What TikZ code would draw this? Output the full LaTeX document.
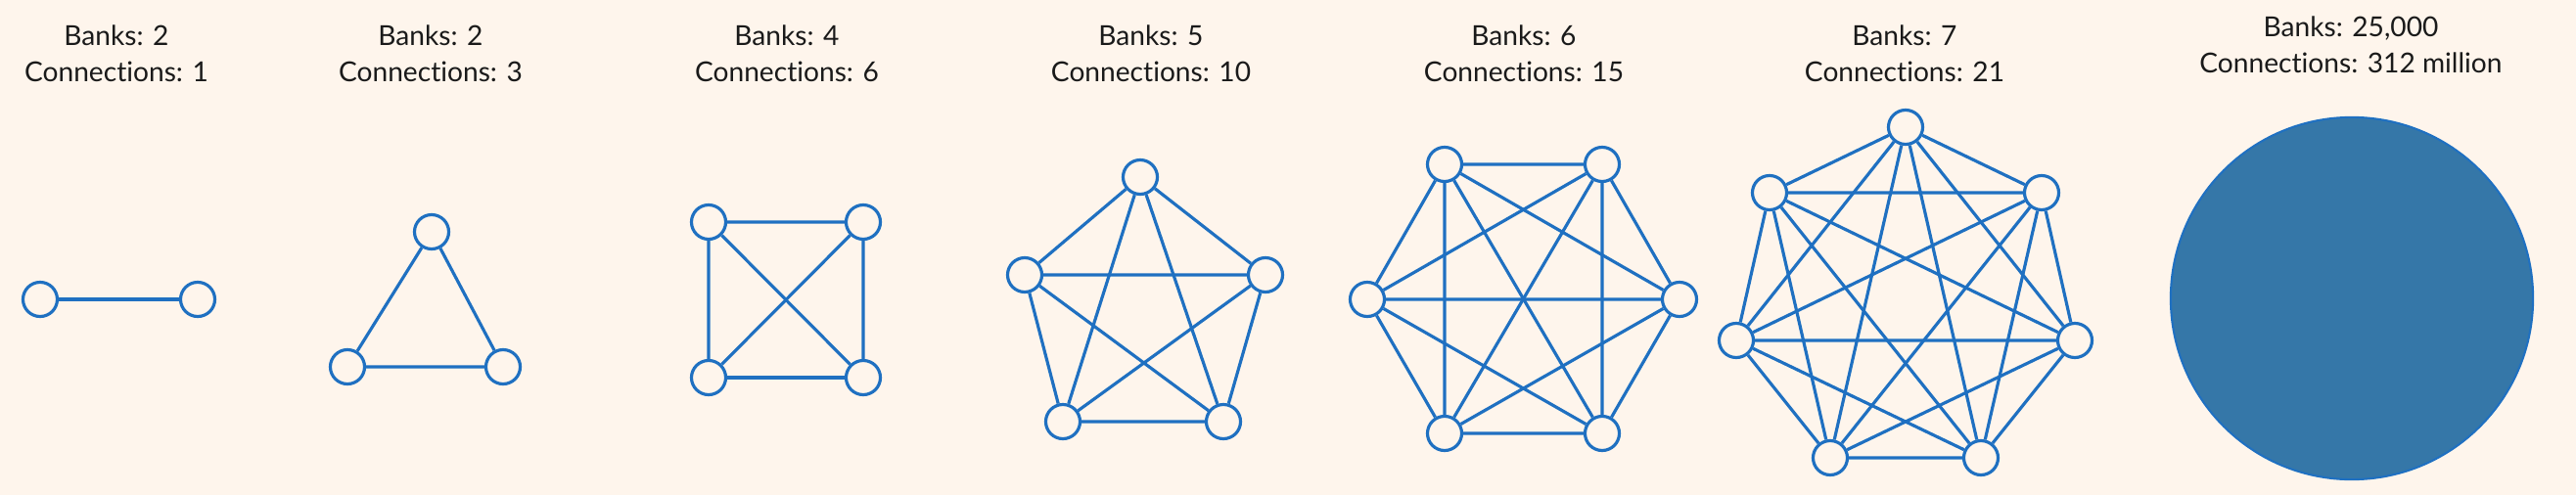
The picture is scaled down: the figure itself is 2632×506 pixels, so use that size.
\documentclass[tikz,border=0pt]{standalone}
\usepackage{fontspec}
\setmainfont{Lato}[Ligatures=NoCommon]
\usepackage{tikz}
\usetikzlibrary{positioning}
\definecolor{netblue}{HTML}{1F70C1}
\definecolor{bigblue}{HTML}{3577A8}
\definecolor{paper}{HTML}{FEF5EC}
\definecolor{ink}{HTML}{1A1A1A}

\begin{document}
\begin{tikzpicture}[
    x=0.01cm, y=-0.01cm,
    bank/.style={circle, draw=netblue, fill=paper, line width=0.9pt, minimum size=0.35cm, inner sep=0pt},
    link/.style={draw=netblue, line width=0.9pt},
    caption/.style={align=center, font=\fontsize{8}{10.4}\selectfont, text=ink, inner sep=0pt}
    ]

    % --- Fondo ---
    \fill[paper] (0,0) rectangle (2632,506);
    \useasboundingbox (0,0) rectangle (2632,506);

    % --- Titulos ---
    \node (cap2) [caption] at (119,55) {Banks: 2\\Connections: 1};
    \node (cap3) [caption] at (440,55) {Banks: 2\\Connections: 3};
    \node (cap4) [caption] at (804,55) {Banks: 4\\Connections: 6};
    \node (cap5) [caption] at (1176,55) {Banks: 5\\Connections: 10};
    \node (cap6) [caption] at (1557,55) {Banks: 6\\Connections: 15};
    \node (cap7) [caption] at (1946,55) {Banks: 7\\Connections: 21};
    \node (capall) [caption] at (2402,46) {Banks: 25,000\\Connections: 312 million};

    % --- Dos bancos ---
    \node (duo1) [bank] at (41,306) {};
    \node (duo2) [bank] at (202,306) {};
    \draw[link] (duo1) -- (duo2);

    % --- Triangulo ---
    \node (tri1) [bank] at (441,237) {};
    \node (tri2) [bank] at (355,375) {};
    \node (tri3) [bank] at (514,375) {};
    \draw[link] (tri1) -- (tri2) (tri1) -- (tri3) (tri2) -- (tri3);

    % --- Cuadrado ---
    \node (sq1) [bank] at (724,227) {};
    \node (sq2) [bank] at (882,227) {};
    \node (sq3) [bank] at (882,386) {};
    \node (sq4) [bank] at (724,386) {};
    \draw[link] (sq1) -- (sq2) (sq1) -- (sq3) (sq1) -- (sq4);
    \draw[link] (sq2) -- (sq3) (sq2) -- (sq4);
    \draw[link] (sq3) -- (sq4);

    % --- Pentagono ---
    \node (pen1) [bank] at (1165,181) {};
    \node (pen2) [bank] at (1047,281) {};
    \node (pen3) [bank] at (1086,431) {};
    \node (pen4) [bank] at (1250,431) {};
    \node (pen5) [bank] at (1293,281) {};
    \draw[link] (pen1) -- (pen2) (pen1) -- (pen3) (pen1) -- (pen4) (pen1) -- (pen5);
    \draw[link] (pen2) -- (pen3) (pen2) -- (pen4) (pen2) -- (pen5);
    \draw[link] (pen3) -- (pen4) (pen3) -- (pen5);
    \draw[link] (pen4) -- (pen5);

    % --- Hexagono ---
    \node (hex1) [bank] at (1476,168) {};
    \node (hex2) [bank] at (1397,306) {};
    \node (hex3) [bank] at (1476,443) {};
    \node (hex4) [bank] at (1637,443) {};
    \node (hex5) [bank] at (1716,306) {};
    \node (hex6) [bank] at (1637,168) {};
    \draw[link] (hex1) -- (hex2) (hex1) -- (hex3) (hex1) -- (hex4) (hex1) -- (hex5) (hex1) -- (hex6);
    \draw[link] (hex2) -- (hex3) (hex2) -- (hex4) (hex2) -- (hex5) (hex2) -- (hex6);
    \draw[link] (hex3) -- (hex4) (hex3) -- (hex5) (hex3) -- (hex6);
    \draw[link] (hex4) -- (hex5) (hex4) -- (hex6);
    \draw[link] (hex5) -- (hex6);

    % --- Heptagono ---
    \node (hep1) [bank] at (1947,130) {};
    \node (hep2) [bank] at (1808,197) {};
    \node (hep3) [bank] at (1774,348) {};
    \node (hep4) [bank] at (1870,468) {};
    \node (hep5) [bank] at (2024,468) {};
    \node (hep6) [bank] at (2120,348) {};
    \node (hep7) [bank] at (2086,197) {};
    \draw[link] (hep1) -- (hep2) (hep1) -- (hep3) (hep1) -- (hep4) (hep1) -- (hep5) (hep1) -- (hep6) (hep1) -- (hep7);
    \draw[link] (hep2) -- (hep3) (hep2) -- (hep4) (hep2) -- (hep5) (hep2) -- (hep6) (hep2) -- (hep7);
    \draw[link] (hep3) -- (hep4) (hep3) -- (hep5) (hep3) -- (hep6) (hep3) -- (hep7);
    \draw[link] (hep4) -- (hep5) (hep4) -- (hep6) (hep4) -- (hep7);
    \draw[link] (hep5) -- (hep6) (hep5) -- (hep7);
    \draw[link] (hep6) -- (hep7);

    % --- Sistema completo ---
    \node (system) [circle, draw=netblue, fill=bigblue, line width=0.6pt, minimum size=3.7cm, inner sep=0pt] at (2403,305) {};

\end{tikzpicture}
\end{document}
